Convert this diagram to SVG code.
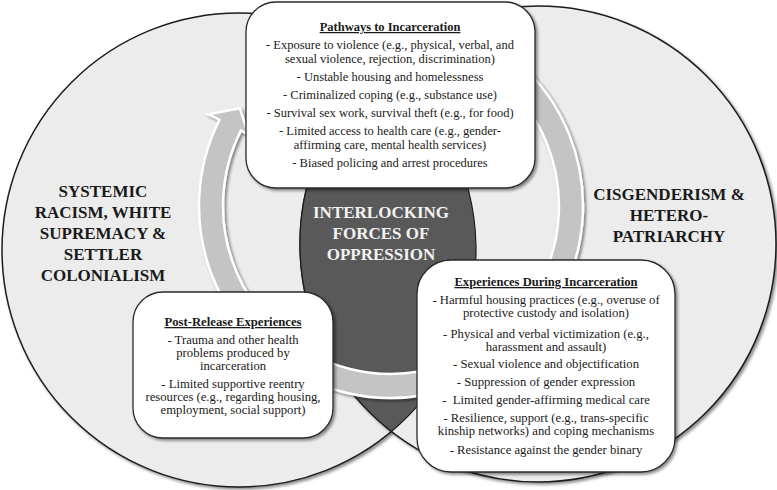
<svg xmlns="http://www.w3.org/2000/svg" width="777" height="490" viewBox="0 0 777 490">
<defs>
<filter id="sh" x="-10%" y="-10%" width="120%" height="120%">
<feDropShadow dx="2" dy="2" stdDeviation="1.5" flood-color="#000" flood-opacity="0.45"/>
</filter>
<style>
.circ{fill:#ececec;stroke:#1e1e1e;stroke-width:1.5;}
.lens{fill:#595959;stroke:#1e1e1e;stroke-width:1.2;}
.band{fill:#c4c4c4;stroke:#ffffff;stroke-width:2.5;stroke-linejoin:miter;}
.box{fill:#ffffff;stroke:#2a2a2a;stroke-width:1.3;}
.t{font-family:"Liberation Serif","Times New Roman",serif;fill:#1a1a1a;text-anchor:middle;}
.big{font-family:"Liberation Serif","Times New Roman",serif;font-weight:bold;font-size:17px;fill:#1a1a1a;text-anchor:middle;}
.title{font-weight:bold;text-decoration:underline;}
</style>
</defs>
<g id="left-circle">
<circle class="circ" cx="239" cy="250" r="237" filter="url(#sh)"/>
<text class="big" x="103" y="197">SYSTEMIC</text>
<text class="big" x="103" y="218">RACISM, WHITE</text>
<text class="big" x="103" y="239">SUPREMACY &amp;</text>
<text class="big" x="103" y="260">SETTLER</text>
<text class="big" x="103" y="281">COLONIALISM</text>
</g>
<g id="right-circle">
<circle class="circ" cx="538" cy="244" r="238" filter="url(#sh)"/>
<text class="big" x="669" y="200">CISGENDERISM &amp;</text>
<text class="big" x="669" y="221">HETERO-</text>
<text class="big" x="669" y="242">PATRIARCHY</text>
</g>
<g id="center-lens">
<path class="lens" d="M384,62.5 A237,237 0 0 1 391.4,431.5 A238,238 0 0 1 384,62.5 Z"/>
</g>
<g id="connectors">
<path class="band" filter="url(#sh)" d="M357.66,16.92 A192,192 0 1 1 219.47,119.73 L208.75,114.34 L239.87,108.23 L248.06,134.11 L240.91,130.51 A168,168 0 1 0 361.83,40.55 Z"/>
</g>
<g id="center-label">
<text class="big" x="381" y="218" style="fill:#f2f2f2">INTERLOCKING</text>
<text class="big" x="381" y="239" style="fill:#f2f2f2">FORCES OF</text>
<text class="big" x="381" y="260" style="fill:#f2f2f2">OPPRESSION</text>
</g>
<g id="pathways">
<rect class="box" x="246" y="2" width="289" height="186" rx="30" ry="30" filter="url(#sh)"/>
<g class="t" font-size="12.5">
<text class="title" x="390" y="31">Pathways to Incarceration</text>
<text x="390" y="49">- Exposure to violence (e.g., physical, verbal, and</text>
<text x="390" y="63">sexual violence, rejection, discrimination)</text>
<text x="390" y="81">- Unstable housing and homelessness</text>
<text x="390" y="99">- Criminalized coping (e.g., substance use)</text>
<text x="390" y="117">- Survival sex work, survival theft (e.g., for food)</text>
<text x="390" y="135">- Limited access to health care (e.g., gender-</text>
<text x="390" y="149">affirming care, mental health services)</text>
<text x="390" y="167">- Biased policing and arrest procedures</text>
</g>
</g>
<g id="post-release">
<rect class="box" x="133" y="292" width="200" height="146" rx="30" ry="30" filter="url(#sh)"/>
<g class="t" font-size="12.7">
<text class="title" x="233" y="326">Post-Release Experiences</text>
<text x="233" y="344">- Trauma and other health</text>
<text x="233" y="357">problems produced by</text>
<text x="233" y="370">incarceration</text>
<text x="233" y="388">- Limited supportive reentry</text>
<text x="233" y="401">resources (e.g., regarding housing,</text>
<text x="233" y="414">employment, social support)</text>
</g>
</g>
<g id="during">
<rect class="box" x="417" y="260" width="258" height="212" rx="34" ry="34" filter="url(#sh)"/>
<g class="t" font-size="12.7">
<text class="title" x="546" y="286" font-size="12.6">Experiences During Incarceration</text>
<text x="546" y="304">- Harmful housing practices (e.g., overuse of</text>
<text x="546" y="317">protective custody and isolation)</text>
<text x="546" y="338">- Physical and verbal victimization (e.g.,</text>
<text x="546" y="351">harassment and assault)</text>
<text x="546" y="368">- Sexual violence and objectification</text>
<text x="546" y="386">- Suppression of gender expression</text>
<text x="546" y="404" xml:space="preserve">-  Limited gender-affirming medical care</text>
<text x="546" y="422">- Resilience, support (e.g., trans-specific</text>
<text x="546" y="435">kinship networks) and coping mechanisms</text>
<text x="546" y="454">- Resistance against the gender binary</text>
</g>
</g>
</svg>
